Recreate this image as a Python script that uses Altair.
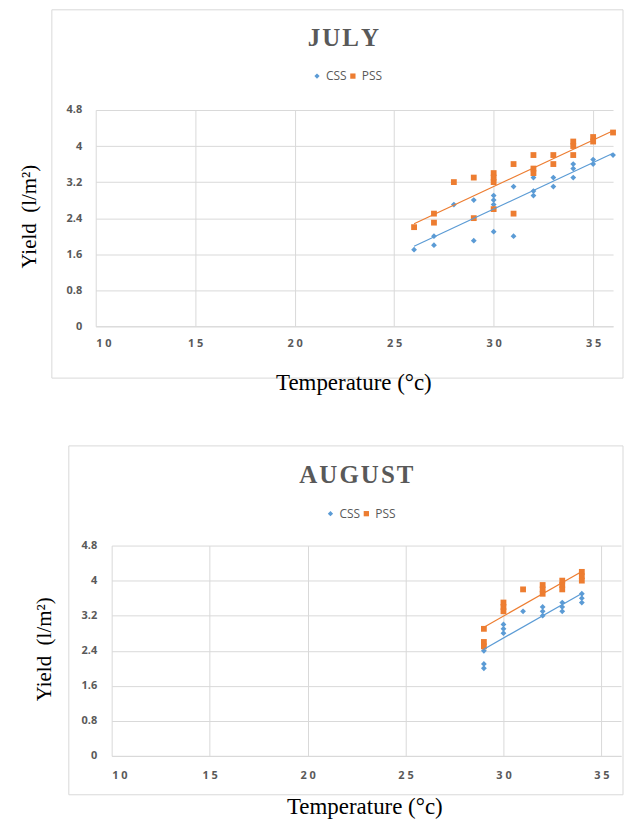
import altair as alt
import pandas as pd

# ---------------- data ----------------
july_css_temp = [26, 27, 27, 28, 29, 29, 30, 30, 30, 30, 31, 31, 32, 32, 32, 33, 33, 34, 34, 34, 35, 35, 36]
july_css_yield = [1.7, 2.0, 1.8, 2.7, 2.8, 1.9, 2.9, 2.8, 2.7, 2.1, 3.1, 2.0, 3.3, 3.0, 2.9, 3.3, 3.1, 3.6, 3.5, 3.3, 3.7, 3.6, 3.8]
july_pss_temp = [26, 27, 27, 28, 29, 29, 30, 30, 30, 30, 31, 31, 32, 32, 32, 33, 33, 34, 34, 34, 35, 35, 36]
july_pss_yield = [2.2, 2.5, 2.3, 3.2, 3.3, 2.4, 3.4, 3.3, 3.2, 2.6, 3.6, 2.5, 3.8, 3.5, 3.4, 3.8, 3.6, 4.1, 4.0, 3.8, 4.2, 4.1, 4.3]

aug_css_temp = [29, 29, 29, 30, 30, 30, 31, 32, 32, 32, 33, 33, 33, 34, 34, 34]
aug_css_yield = [2.4, 2.1, 2.0, 3.0, 2.9, 2.8, 3.3, 3.4, 3.3, 3.2, 3.5, 3.4, 3.3, 3.7, 3.6, 3.5]
aug_pss_temp = [29, 29, 29, 30, 30, 30, 31, 32, 32, 32, 33, 33, 33, 34, 34, 34]
aug_pss_yield = [2.9, 2.6, 2.5, 3.5, 3.4, 3.3, 3.8, 3.9, 3.8, 3.7, 4.0, 3.9, 3.8, 4.2, 4.1, 4.0]

series_names = ["CSS", "PSS"]
month_titles = ["J\u200aU\u200aL\u200aY", "A\u200aU\u200aG\u200aU\u200aS\u200aT"]
x_title = "Temperature (°c)"
y_title = "Yield\u2002(l/m²)"
x_ticks = [10, 15, 20, 25, 30, 35]
y_ticks = [0, 0.8, 1.6, 2.4, 3.2, 4, 4.8]
x_domain = [10, 36]
y_domain = [0, 4.8]

# ---------------- style ----------------
BLUE = "#5b9bd5"
ORANGE = "#ed7d31"
GRID = "#d9d9d9"
TXT = "#595959"
SANS = "Open Sans"
SERIF = "Liberation Serif"


def text_layer(text, x, y, **kw):
    return alt.Chart(pd.DataFrame({"label": [text]})).mark_text(**kw).encode(
        x=alt.value(x), y=alt.value(y), text="label:N"
    )


def box_layer(x, x2, y, y2, **kw):
    return alt.Chart(pd.DataFrame({"k": [0]})).mark_rect(**kw).encode(
        x=alt.value(x), x2=alt.value(x2), y=alt.value(y), y2=alt.value(y2)
    )


def panel(css_t, css_y, pss_t, pss_y, month, g):
    df = pd.DataFrame({
        "Temperature": css_t + pss_t,
        "Yield": css_y + pss_y,
        "Series": ["CSS"] * len(css_t) + ["PSS"] * len(pss_t),
    })
    xs = alt.Scale(domain=x_domain, nice=False, zero=False, range=[g["x0"], g["width"]])
    ys = alt.Scale(domain=y_domain, nice=False, zero=True)
    col = alt.Scale(domain=series_names, range=[BLUE, ORANGE])
    shp = alt.Scale(domain=series_names, range=["diamond", "square"])
    x_axis = alt.Axis(
        values=x_ticks, title=None, grid=True, gridColor=GRID, gridWidth=1,
        domainColor=GRID, domainWidth=1, ticks=False, labelPadding=g["xpad"],
        labelExpr="substring(datum.label, 0, 1) + ' ' + substring(datum.label, 1)",
        labelFont=SANS, labelFontSize=11, labelFontWeight="bold", labelColor=TXT,
    )
    y_axis = alt.Axis(
        values=y_ticks, title=None, grid=True, gridColor=GRID, gridWidth=1,
        domain=False, ticks=False, labelPadding=g["ypad"],
        labelExpr="format(datum.value, '.1~f')",
        labelFont=SANS, labelFontSize=11, labelFontWeight="bold", labelColor=TXT,
    )
    legend = alt.Legend(
        orient="none", legendX=g["legx"], legendY=g["legy"], direction="horizontal",
        title=None, labelFont=SANS, labelFontSize=12, labelColor=TXT,
        symbolSize=28, symbolStrokeWidth=0, labelOffset=3, columnPadding=-1,
    )
    base = alt.Chart(df)
    points = base.mark_point(filled=True, size=34, opacity=1).encode(
        x=alt.X("Temperature:Q", scale=xs, axis=x_axis),
        y=alt.Y("Yield:Q", scale=ys, axis=y_axis),
        color=alt.Color("Series:N", scale=col, legend=legend),
        shape=alt.Shape("Series:N", scale=shp, legend=legend),
    )
    trend = base.transform_regression(
        "Temperature", "Yield", groupby=["Series"]
    ).mark_line(strokeWidth=1.2).encode(
        x=alt.X("Temperature:Q", scale=xs, axis=x_axis),
        y=alt.Y("Yield:Q", scale=ys, axis=y_axis),
        color=alt.Color("Series:N", scale=col, legend=None),
    )
    frame = box_layer(g["fx"], g["fx2"], g["fy"], g["fy2"],
                      fill="transparent", stroke=GRID, strokeWidth=1)
    anchor = box_layer(g["ax"], g["ax"] + 1, g["fy"], g["fy"] + 1, fill="white")
    title = text_layer(month, g["tx"], g["ty"], font=SERIF, fontSize=25,
                       fontWeight="bold", color=TXT, align="center", baseline="middle")
    ytitle = text_layer(y_title, g["ytx"], g["yty"], font=SERIF, fontSize=21,
                        color="black", angle=270, align="center", baseline="middle")
    xtitle = text_layer(x_title, g["xtx"], g["xty"], font=SERIF, fontSize=23,
                        color="black", align="center", baseline="middle")
    return alt.layer(anchor, frame, points, trend, title, ytitle, xtitle).properties(
        width=g["width"], height=g["height"]
    )


top_geom = dict(x0=0, width=519, height=217, xpad=11, ypad=14,
                legx=216, legy=-40,
                fx=-44, fx2=529, fy=-100.5, fy2=269, ax=-88,
                tx=248.5, ty=-72.5, ytx=-66, yty=107, xtx=259, xty=274)
bot_geom = dict(x0=16, width=527, height=211, xpad=14, ypad=-1,
                legx=229.5, legy=-38,
                fx=-27, fx2=529, fy=-100, fy2=250, ax=-88,
                tx=261.5, ty=-71, ytx=-51, yty=104, xtx=270, xty=262)

top = panel(july_css_temp, july_css_yield, july_pss_temp, july_pss_yield, month_titles[0], top_geom)
bottom = panel(aug_css_temp, aug_css_yield, aug_pss_temp, aug_pss_yield, month_titles[1], bot_geom)

chart = alt.vconcat(top, bottom, spacing=220, bounds="flush").resolve_scale(
    color="independent", shape="independent"
).resolve_legend(color="independent", shape="independent").properties(
    padding=0, background="white"
).configure_view(stroke=None)

chart.save("out.html", embed_options={"renderer": "svg", "actions": False})
